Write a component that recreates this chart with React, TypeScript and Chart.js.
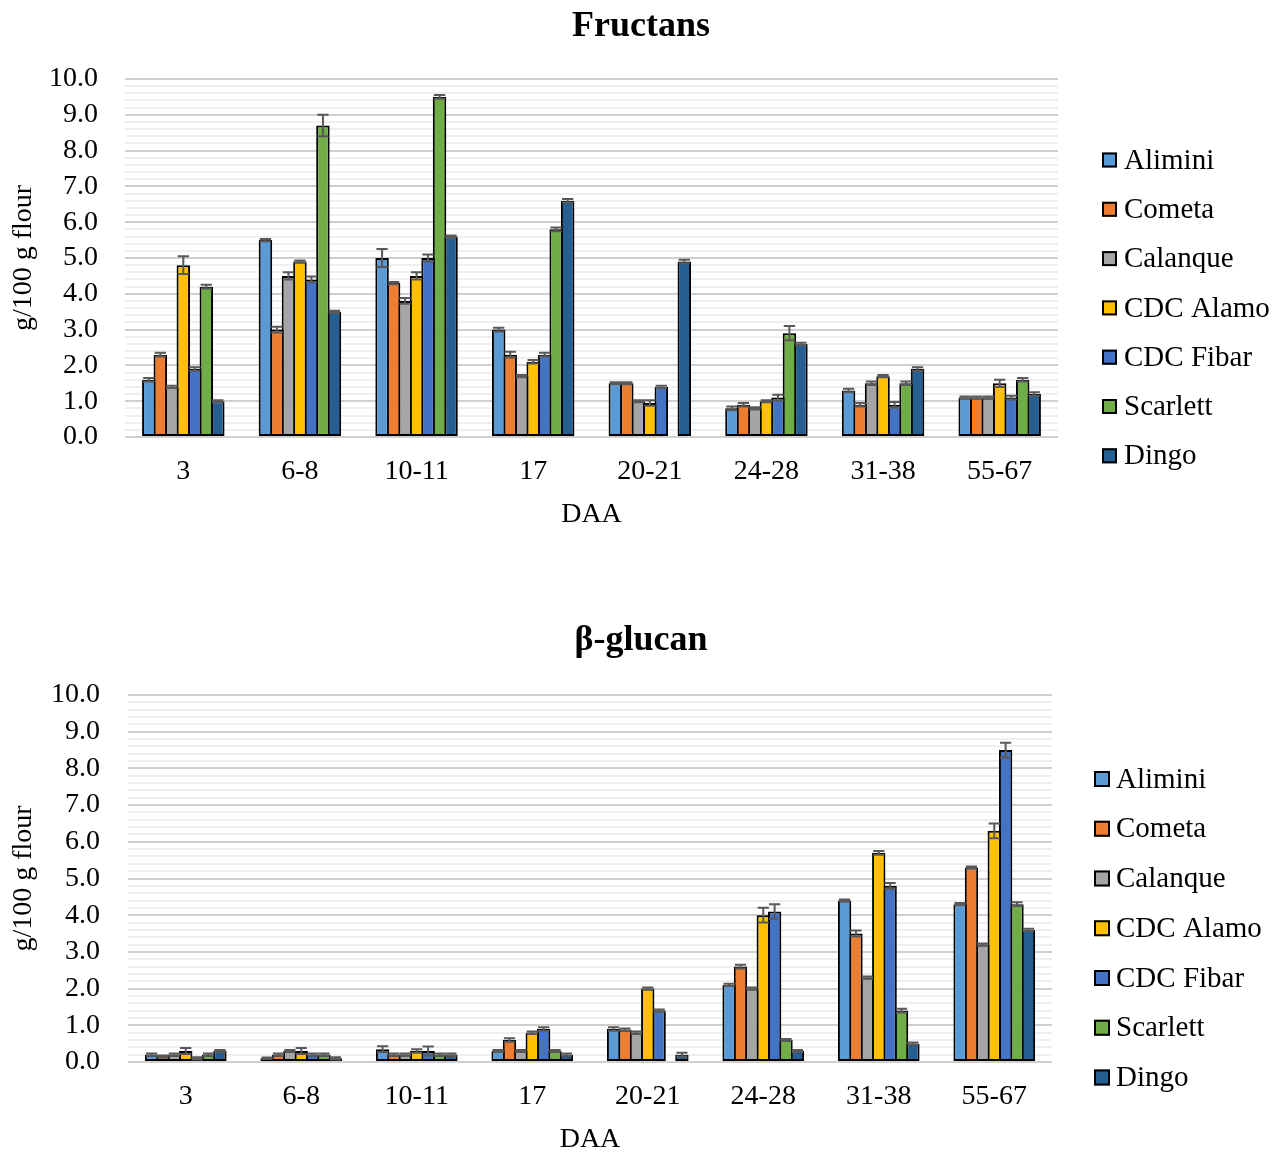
import React, { useEffect, useRef } from "react";
import { Chart, registerables } from "chart.js";

Chart.register(...registerables);

// ---------- data ----------
const categories = ["3", "6-8", "10-11", "17", "20-21", "24-28", "31-38", "55-67"];
const seriesNames = ["Alimini", "Cometa", "Calanque", "CDC Alamo", "CDC Fibar", "Scarlett", "Dingo"];
const seriesColors = ["#5b9bd5", "#ed7d31", "#a5a5a5", "#ffc000", "#4472c4", "#70ad47", "#255e91"];
const yTickLabels = ["0.0", "1.0", "2.0", "3.0", "4.0", "5.0", "6.0", "7.0", "8.0", "9.0", "10.0"];

// Fructans (g/100 g flour)
const fructansAlimini = [1.6, 5.5, 5.0, 3.0, 1.5, 0.8, 1.3, 1.1];
const fructansCometa = [2.3, 3.0, 4.3, 2.3, 1.5, 0.9, 0.9, 1.1];
const fructansCalanque = [1.4, 4.5, 3.8, 1.7, 1.0, 0.8, 1.5, 1.1];
const fructansCdcAlamo = [4.8, 4.9, 4.5, 2.1, 0.95, 1.0, 1.7, 1.5];
const fructansCdcFibar = [1.9, 4.4, 5.0, 2.3, 1.4, 1.1, 0.9, 1.1];
const fructansScarlett = [4.2, 8.7, 9.5, 5.8, null, 2.9, 1.5, 1.6];
const fructansDingo = [1.0, 3.5, 5.6, 6.6, 4.9, 2.6, 1.9, 1.2];

const fructansErrAlimini = [0.05, 0.03, 0.25, 0.05, 0.03, 0.05, 0.05, 0.03];
const fructansErrCometa = [0.05, 0.08, 0.03, 0.08, 0.03, 0.05, 0.05, 0.03];
const fructansErrCalanque = [0.03, 0.1, 0.08, 0.03, 0.03, 0.03, 0.05, 0.03];
const fructansErrCdcAlamo = [0.25, 0.03, 0.1, 0.05, 0.08, 0.03, 0.03, 0.1];
const fructansErrCdcFibar = [0.05, 0.08, 0.1, 0.05, 0.03, 0.08, 0.08, 0.05];
const fructansErrScarlett = [0.05, 0.3, 0.05, 0.05, null, 0.2, 0.05, 0.05];
const fructansErrDingo = [0.03, 0.03, 0.03, 0.05, 0.05, 0.03, 0.05, 0.05];

// beta-glucan (g/100 g flour)
const glucanAlimini = [0.2, 0.1, 0.35, 0.3, 0.9, 2.1, 4.4, 4.3];
const glucanCometa = [0.15, 0.2, 0.2, 0.6, 0.88, 2.6, 3.5, 5.3];
const glucanCalanque = [0.2, 0.3, 0.2, 0.3, 0.8, 2.0, 2.3, 3.2];
const glucanCdcAlamo = [0.3, 0.3, 0.3, 0.8, 2.0, 4.0, 5.7, 6.3];
const glucanCdcFibar = [0.1, 0.2, 0.3, 0.9, 1.4, 4.1, 4.8, 8.5];
const glucanScarlett = [0.2, 0.2, 0.2, 0.3, null, 0.6, 1.4, 4.3];
const glucanDingo = [0.3, 0.1, 0.2, 0.2, 0.2, 0.3, 0.5, 3.6];

const glucanErrAlimini = [0.03, 0.02, 0.08, 0.03, 0.05, 0.03, 0.03, 0.03];
const glucanErrCometa = [0.03, 0.03, 0.03, 0.05, 0.03, 0.05, 0.08, 0.03];
const glucanErrCalanque = [0.03, 0.03, 0.03, 0.03, 0.03, 0.03, 0.03, 0.03];
const glucanErrCdcAlamo = [0.08, 0.08, 0.05, 0.03, 0.03, 0.2, 0.05, 0.2];
const glucanErrCdcFibar = [0.03, 0.03, 0.12, 0.05, 0.03, 0.2, 0.08, 0.2];
const glucanErrScarlett = [0.03, 0.03, 0.03, 0.03, null, 0.03, 0.05, 0.05];
const glucanErrDingo = [0.03, 0.03, 0.03, 0.03, 0.05, 0.03, 0.03, 0.03];

const fructansValues = [fructansAlimini, fructansCometa, fructansCalanque, fructansCdcAlamo, fructansCdcFibar, fructansScarlett, fructansDingo];
const fructansErrors = [fructansErrAlimini, fructansErrCometa, fructansErrCalanque, fructansErrCdcAlamo, fructansErrCdcFibar, fructansErrScarlett, fructansErrDingo];
const glucanValues = [glucanAlimini, glucanCometa, glucanCalanque, glucanCdcAlamo, glucanCdcFibar, glucanScarlett, glucanDingo];
const glucanErrors = [glucanErrAlimini, glucanErrCometa, glucanErrCalanque, glucanErrCdcAlamo, glucanErrCdcFibar, glucanErrScarlett, glucanErrDingo];

// ---------- styling ----------
const FONT = "'Liberation Serif', 'Times New Roman', serif";
const LEGEND_FONT = "normal 29px " + FONT;
const PAGE_W = 1282;

const isMajor = (v: number) => Math.abs(v - Math.round(v)) < 1e-6;

const errorBarPlugin = {
  id: "errorBars",
  afterDatasetsDraw(chart: any) {
    const ctx = chart.ctx;
    const y = chart.scales.y;
    ctx.save();
    ctx.strokeStyle = "#595959";
    ctx.lineWidth = 2;
    chart.data.datasets.forEach((ds: any, di: number) => {
      const meta = chart.getDatasetMeta(di);
      meta.data.forEach((el: any, i: number) => {
        const v = ds.data[i];
        const e = ds.errors ? ds.errors[i] : null;
        if (v == null || e == null) return;
        const top = y.getPixelForValue(v + e);
        const bot = y.getPixelForValue(v - e);
        const half = el.width * 0.42;
        ctx.beginPath();
        ctx.moveTo(el.x, top);
        ctx.lineTo(el.x, bot);
        ctx.moveTo(el.x - half, top);
        ctx.lineTo(el.x + half, top);
        ctx.moveTo(el.x - half, bot);
        ctx.lineTo(el.x + half, bot);
        ctx.stroke();
      });
    });
    ctx.restore();
  },
};

const sideLegendPlugin = {
  id: "sideLegend",
  afterDraw(chart: any, _args: any, opts: any) {
    const ctx = chart.ctx;
    ctx.save();
    ctx.textBaseline = "middle";
    ctx.textAlign = "left";
    chart.data.datasets.forEach((ds: any, i: number) => {
      const cy = opts.y + i * opts.step;
      const b = opts.box;
      ctx.fillStyle = ds.backgroundColor;
      ctx.fillRect(opts.x, cy - b / 2, b, b);
      ctx.lineWidth = 2;
      ctx.strokeStyle = "#000";
      ctx.strokeRect(opts.x + 1, cy - b / 2 + 1, b - 2, b - 2);
      ctx.fillStyle = "#000";
      ctx.font = LEGEND_FONT;
      ctx.fillText(ds.label, opts.textX, cy + 1);
    });
    ctx.restore();
  },
};

type Layout = {
  height: number;
  title: string;
  titlePadTop: number;
  titlePadBottom: number;
  yWidth: number;
  yTickPad: number;
  yTitlePad: number;
  xHeight: number;
  xTickPad: number;
  xTitlePadBottom: number;
  rightSpace: number;
  legend: { x: number; y: number; step: number; box: number; textX: number };
};

function buildConfig(values: (number | null)[][], errors: (number | null)[][], L: Layout): any {
  return {
    type: "bar",
    data: {
      labels: categories,
      datasets: seriesNames.map((name, i) => ({
        label: name,
        data: values[i],
        errors: errors[i],
        backgroundColor: seriesColors[i],
        borderColor: "#000",
        borderWidth: 2,
        borderSkipped: false,
        categoryPercentage: 0.69,
        barPercentage: 1.174,
        yAxisID: "y",
      })),
    },
    options: {
      responsive: false,
      animation: false,
      events: [],
      layout: { padding: 0 },
      plugins: {
        legend: { display: false },
        tooltip: { enabled: false },
        title: {
          display: true,
          text: L.title,
          color: "#000",
          font: { family: FONT, size: 36, weight: "bold", lineHeight: 1.2 },
          padding: { top: L.titlePadTop, bottom: L.titlePadBottom },
        },
        sideLegend: L.legend,
      },
      scales: {
        x: {
          type: "category",
          grid: { display: false, drawTicks: false },
          border: { display: false },
          ticks: {
            color: "#000",
            font: { family: FONT, size: 28, lineHeight: 1.2 },
            padding: L.xTickPad,
            maxRotation: 0,
            autoSkip: false,
          },
          title: {
            display: true,
            text: "DAA",
            color: "#000",
            font: { family: FONT, size: 28, lineHeight: 1 },
            padding: { top: 0, bottom: L.xTitlePadBottom },
          },
          afterFit: (s: any) => {
            s.height = L.xHeight;
          },
        },
        y: {
          position: "left",
          min: 0,
          max: 10,
          border: { display: false },
          grid: {
            drawTicks: false,
            lineWidth: 2,
            color: (c: any) => (c.tick && isMajor(c.tick.value) ? "#cfcfcf" : "#efefef"),
          },
          ticks: {
            stepSize: 0.2,
            autoSkip: false,
            color: "#000",
            font: { family: FONT, size: 28, lineHeight: 1.2 },
            padding: L.yTickPad,
            callback: (v: number) => (isMajor(v) ? yTickLabels[Math.round(v)] : ""),
          },
          title: {
            display: true,
            text: "g/100 g flour",
            color: "#000",
            font: { family: FONT, size: 28, lineHeight: 1.2 },
            padding: { top: L.yTitlePad, bottom: 0 },
          },
          afterFit: (s: any) => {
            s.width = L.yWidth;
          },
        },
        legendSpace: {
          type: "linear",
          position: "right",
          display: true,
          grid: { display: false, drawOnChartArea: false, drawTicks: false },
          border: { display: false },
          ticks: { display: false },
          afterFit: (s: any) => {
            s.width = L.rightSpace;
          },
        },
      },
    },
    plugins: [errorBarPlugin, sideLegendPlugin],
  };
}

const TOP_H = 554;
const BOTTOM_H = 1154 - TOP_H;

const fructansLayout: Layout = {
  height: TOP_H,
  title: "Fructans",
  titlePadTop: 5,
  titlePadBottom: 30.8,
  yWidth: 125,
  yTickPad: 27,
  yTitlePad: 7,
  xHeight: TOP_H - 437,
  xTickPad: 18,
  xTitlePadBottom: 25,
  rightSpace: PAGE_W - 1058,
  legend: { x: 1102, y: 160, step: 49.3, box: 15, textX: 1124 },
};

const glucanLayout: Layout = {
  height: BOTTOM_H,
  title: "β-glucan",
  titlePadTop: 65,
  titlePadBottom: 32.8,
  yWidth: 128,
  yTickPad: 28,
  yTitlePad: 7,
  xHeight: BOTTOM_H - (1062 - TOP_H),
  xTickPad: 18,
  xTitlePadBottom: 0,
  rightSpace: PAGE_W - 1052,
  legend: { x: 1094, y: 779 - TOP_H, step: 49.75, box: 16, textX: 1116 },
};

function BarChart({ values, errors, layout }: { values: any; errors: any; layout: Layout }) {
  const ref = useRef<HTMLCanvasElement | null>(null);
  useEffect(() => {
    if (!ref.current) return;
    const chart = new Chart(ref.current, buildConfig(values, errors, layout));
    return () => chart.destroy();
  }, []);
  return <canvas ref={ref} width={PAGE_W} height={layout.height} style={{ display: "block" }} />;
}

export default function App() {
  return (
    <div style={{ position: "absolute", left: 0, top: 0, width: PAGE_W, height: 1154, background: "#fff", overflow: "hidden" }}>
      <BarChart values={fructansValues} errors={fructansErrors} layout={fructansLayout} />
      <BarChart values={glucanValues} errors={glucanErrors} layout={glucanLayout} />
    </div>
  );
}
